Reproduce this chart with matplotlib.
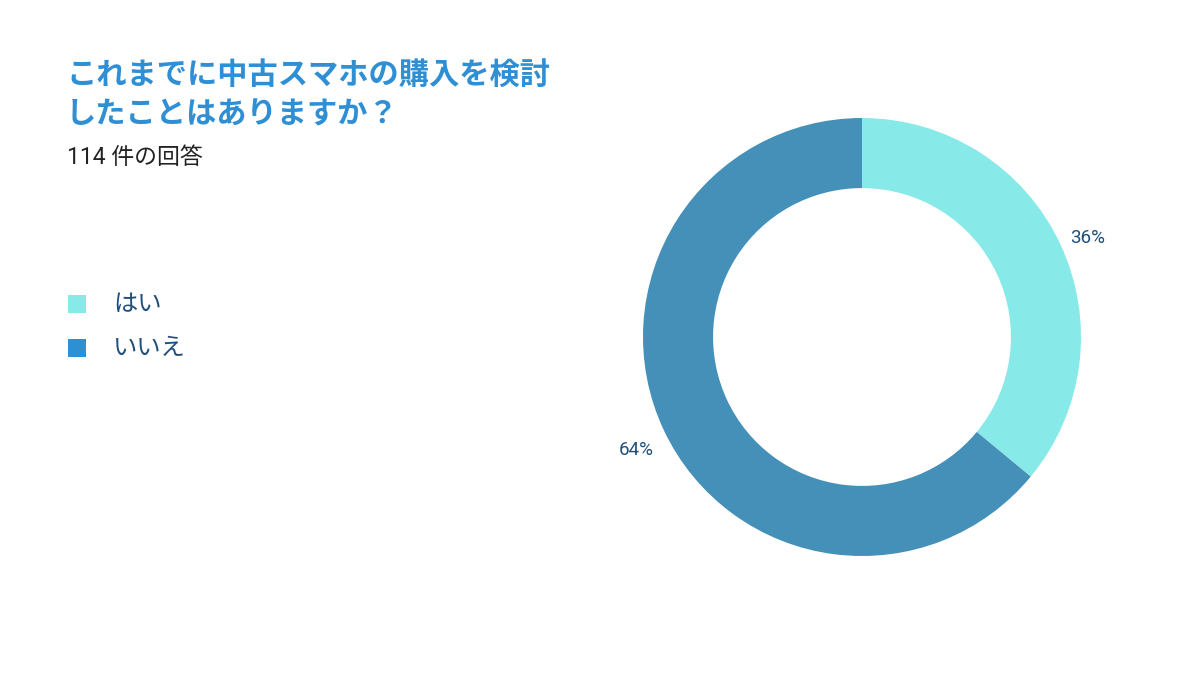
import matplotlib
matplotlib.use("Agg")
import matplotlib.pyplot as plt
from matplotlib.patches import Rectangle

plt.rcParams['font.family'] = ['Noto Sans CJK JP', 'DejaVu Sans']

title_lines = ["これまでに中古スマホの購入を検討", "したことはありますか？"]
subtitle = "114 件の回答"
labels = ["はい", "いいえ"]
shares = [36, 64]
slice_colours = ["#87E9E8", "#4590B8"]
legend_colours = ["#87E9E8", "#2E90D4"]

W, H = 1200, 675
fig = plt.figure(figsize=(12, 6.75), dpi=100)

# donut: centre (862, 337) px from top, outer radius 219 px
lim = 1.3
side = 2 * lim * 219
cx, cy = 862, H - 337
ax = fig.add_axes([(cx - side / 2) / W, (cy - side / 2) / H, side / W, side / H])
wedges, texts = ax.pie(
    shares, colors=slice_colours, startangle=90, counterclock=False,
    radius=1, wedgeprops=dict(width=0.32, linewidth=0),
    labels=[f"{s}%" for s in shares], labeldistance=1.14,
    textprops=dict(fontsize=13.5, color="#1F4E7A", ha="center", va="center",
                   family=["Roboto", "Noto Sans CJK JP"]),
)
for t in texts:
    x, y = t.get_position()
    t.set_position((x, y - 0.032))
ax.set_xlim(-lim, lim)
ax.set_ylim(-lim, lim)
ax.set_aspect("equal")
ax.axis("off")

for i, line in enumerate(title_lines):
    fig.text(66 / W, 1 - (76 + i * 38) / H, line, fontsize=21.8, fontweight="bold",
             color="#2E8FD4", va="center", ha="left")
fig.text(67 / W, 1 - 158 / H, subtitle, fontsize=16.5, color="#222222",
         va="center", ha="left", family=["Roboto", "Noto Sans CJK JP"])

for i, (lab, col) in enumerate(zip(labels, legend_colours)):
    y = 304 + i * 44
    fig.patches.append(Rectangle((68 / W, 1 - (y + 9) / H), 18 / W, 18 / H,
                                 transform=fig.transFigure, facecolor=col,
                                 edgecolor="none"))
    fig.text(113 / W, 1 - y / H, lab, fontsize=17.5, color="#1F4E7A",
             va="center", ha="left")

fig.savefig("out.png", dpi=100, facecolor="white")
